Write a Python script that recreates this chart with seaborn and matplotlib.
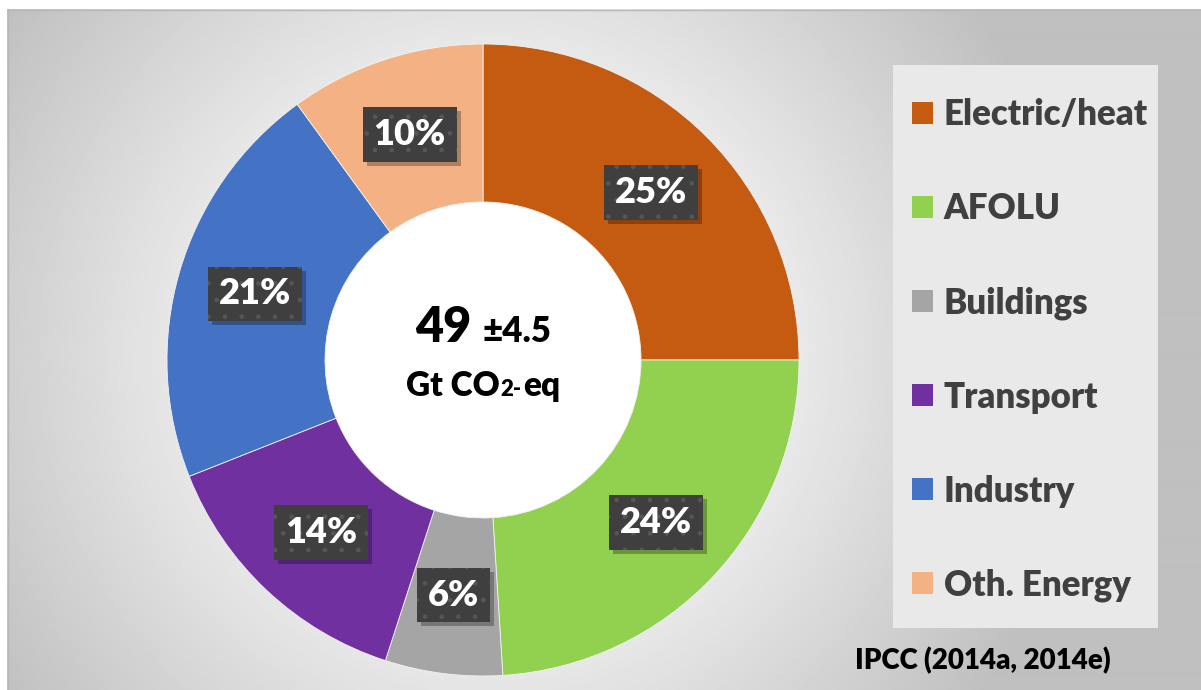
import numpy as np
import matplotlib
matplotlib.use("Agg")
import matplotlib.pyplot as plt
import matplotlib.patches as mpatches
from matplotlib.transforms import IdentityTransform
from matplotlib.offsetbox import TextArea, HPacker, VPacker, AnnotationBbox
import seaborn as sns

# ---- data ----
sectors = ["Electric/heat", "AFOLU", "Buildings", "Transport", "Industry", "Oth. Energy"]
shares = [25, 24, 6, 14, 21, 10]
hex_colors = ["#C55A11", "#92D050", "#A5A5A5", "#7030A0", "#4472C4", "#F4B183"]
total_value = "49"
total_uncert = "±4.5"
source_note = "IPCC (2014a, 2014e)"

sns.set_theme(style="white")
plt.rcParams["font.family"] = ["Lato", "DejaVu Sans"]
palette = sns.color_palette(hex_colors)
W8 = "heavy"

W, H = 1201, 690
fig = plt.figure(figsize=(W / 100, H / 100), dpi=100, facecolor="white")

# ---- background radial gradient ----
bg = fig.add_axes([0, 0, 1, 1], zorder=-10)
bg.set_xlim(0, W)
bg.set_ylim(H, 0)
bg.axis("off")
yy, xx = np.mgrid[9:H:2, 7:W:2]
d = np.hypot(xx - 490, yy - 355)
g = 1.0 - 0.25 * np.clip((d - 150) / 450, 0, 1)
bg.imshow(g, cmap="gray", vmin=0, vmax=1, extent=(7, W, H, 9),
          origin="upper", aspect="auto", interpolation="bilinear")
bg.plot([7, W], [9.5, 9.5], color="#b8b8b8", lw=1)
bg.plot([7.5, 7.5], [9, H], color="#b8b8b8", lw=1)

# legend panel
bg.add_patch(mpatches.Rectangle((893, 65), 265, 563, facecolor="#e9e9e9",
                                edgecolor="none", zorder=2))

# ---- donut ----
cx, cy, R = 483, 360, 316
ax = fig.add_axes([(cx - R) / W, (H - cy - R) / H, 2 * R / W, 2 * R / H])
wedges, texts, autotexts = ax.pie(
    shares, colors=palette, startangle=90, counterclock=False,
    radius=1.0, autopct=lambda p: f"{p:.0f}%", pctdistance=0.75,
    wedgeprops=dict(width=0.5, edgecolor="#f2f2f2", linewidth=0.6),
    textprops=dict(color="white", fontsize=26, fontweight=W8),
)
ax.add_patch(mpatches.Circle((0, 0), 0.5, facecolor="white", edgecolor="none", zorder=0))
ax.set_xlim(-1, 1)
ax.set_ylim(-1, 1)
ax.set_aspect("equal")
ax.axis("off")

plt.rcParams["hatch.linewidth"] = 0.9
for t in autotexts:
    t.set_ha("center")
    t.set_va("center")
    t.set_zorder(5)
    t.set_bbox(dict(boxstyle="square,pad=0.3", facecolor="#3f3f3f",
                    edgecolor="#565656", linewidth=0, hatch="."))

# ---- centre text ----
line1 = HPacker(children=[
    TextArea(total_value, textprops=dict(fontsize=35, fontweight=W8, color="black")),
    TextArea(total_uncert, textprops=dict(fontsize=25, fontweight=W8, color="black")),
], align="baseline", pad=0, sep=8)
line2 = HPacker(children=[
    TextArea("Gt CO", textprops=dict(fontsize=24, fontweight=W8, color="black")),
    TextArea("2-", textprops=dict(fontsize=16, fontweight=W8, color="black")),
    TextArea("eq", textprops=dict(fontsize=24, fontweight=W8, color="black")),
], align="baseline", pad=0, sep=1)
center_box = VPacker(children=[line1, line2], align="center", pad=0, sep=14)
ab = AnnotationBbox(center_box, (0, 0.02), xycoords="data", frameon=False,
                    box_alignment=(0.5, 0.5))
ax.add_artist(ab)

# ---- legend ----
handles = [mpatches.Patch(facecolor=c, edgecolor="none") for c in palette]
leg = fig.legend(handles, sectors, loc="upper left",
                 bbox_to_anchor=(895 / W, 1 - 81 / H), frameon=False,
                 fontsize=25, labelspacing=1.755, handlelength=0.6,
                 handleheight=0.6, handletextpad=0.3, borderpad=0)
for txt in leg.get_texts():
    txt.set_fontweight(W8)
    txt.set_color("#404040")

fig.text(983 / W, 1 - 661 / H, source_note, ha="center", va="center",
         fontsize=20, fontweight=W8, color="black")

# ---- soft drop shadows behind the label boxes ----
fig.canvas.draw()
renderer = fig.canvas.get_renderer()
for t in autotexts:
    bb = t.get_bbox_patch().get_window_extent(renderer)
    ax.add_patch(mpatches.Rectangle((bb.x0 + 4, bb.y0 - 4), bb.width, bb.height,
                                    transform=IdentityTransform(), facecolor="black",
                                    edgecolor="none", alpha=0.28, zorder=4))

fig.savefig("out.png", dpi=100, facecolor="white")
